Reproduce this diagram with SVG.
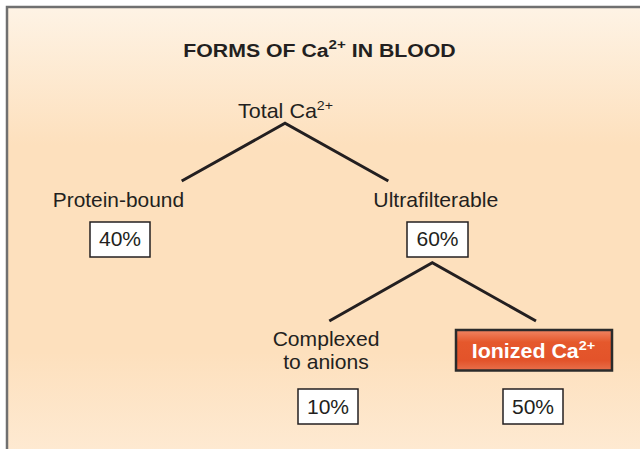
<svg xmlns="http://www.w3.org/2000/svg" width="640" height="449" viewBox="0 0 640 449">
  <defs>
    <linearGradient id="bg" x1="0" y1="0" x2="0" y2="1">
      <stop offset="0" stop-color="#fef3e5"/>
      <stop offset="0.3" stop-color="#fde0bd"/>
      <stop offset="0.75" stop-color="#fde0bd"/>
      <stop offset="1" stop-color="#feebd5"/>
    </linearGradient>
    <linearGradient id="ion" x1="0" y1="0" x2="0" y2="1">
      <stop offset="0" stop-color="#f08563"/>
      <stop offset="0.3" stop-color="#e5582c"/>
      <stop offset="0.75" stop-color="#e3532a"/>
      <stop offset="1" stop-color="#e8704c"/>
    </linearGradient>
    <style>
      text { font-family: "Liberation Sans", Arial, sans-serif; fill: #231f20; text-anchor: middle; }
      .title { font-size: 19px; font-weight: bold; }
      .lbl { font-size: 20.5px; }
      .pct { font-size: 19.5px; }
      .ionlbl { font-size: 20px; font-weight: bold; fill: #ffffff; }
      .sup { font-size: 13.5px; }
      .box { fill: #ffffff; stroke: #231f20; stroke-width: 1.5; }
      .conn { fill: none; stroke: #231f20; stroke-width: 3; stroke-linejoin: miter; }
    </style>
  </defs>
  <rect x="0" y="0" width="640" height="449" fill="#ffffff"/>
  <rect x="7" y="7" width="650" height="460" fill="url(#bg)" stroke="#707070" stroke-width="2.5"/>

  <g id="title">
    <text class="title" transform="translate(319.5,56.7) scale(1.12,1)">FORMS OF Ca<tspan class="sup" dy="-7.5">2+</tspan><tspan dy="7.5"> IN BLOOD</tspan></text>
  </g>

  <g id="connectors">
    <polyline class="conn" points="181.7,181 285,123.3 388.3,181"/>
    <polyline class="conn" points="329.3,321 432.3,262.7 536,321"/>
  </g>

  <g id="total">
    <text class="lbl" transform="translate(285.5,118.3) scale(1.05,1)">Total Ca<tspan class="sup" dy="-8">2+</tspan></text>
  </g>

  <g id="protein-bound">
    <text class="lbl" transform="translate(118.4,206.7) scale(1.02,1)">Protein-bound</text>
    <rect class="box" x="90" y="222" width="60" height="35"/>
    <text class="pct" transform="translate(120,245.7) scale(1.08,1)">40%</text>
  </g>

  <g id="ultrafilterable">
    <text class="lbl" transform="translate(435.8,206.7) scale(1.035,1)">Ultrafilterable</text>
    <rect class="box" x="407" y="222" width="61" height="35"/>
    <text class="pct" transform="translate(437.5,245.7) scale(1.08,1)">60%</text>
  </g>

  <g id="complexed">
    <text class="lbl" transform="translate(326,345.7) scale(1.03,1)">Complexed</text>
    <text class="lbl" transform="translate(326,369.3) scale(1.03,1)">to anions</text>
    <rect class="box" x="298" y="389" width="60" height="35"/>
    <text class="pct" transform="translate(328,414.3) scale(1.08,1)">10%</text>
  </g>

  <g id="ionized">
    <rect x="456" y="330" width="156" height="40.5" fill="url(#ion)" stroke="#2b2b2b" stroke-width="2.5"/>
    <text class="ionlbl" transform="translate(533.5,357.7) scale(1.07,1)">Ionized Ca<tspan class="sup" dy="-8">2+</tspan></text>
    <rect class="box" x="503" y="389" width="60" height="35"/>
    <text class="pct" transform="translate(533,414.3) scale(1.08,1)">50%</text>
  </g>
</svg>
